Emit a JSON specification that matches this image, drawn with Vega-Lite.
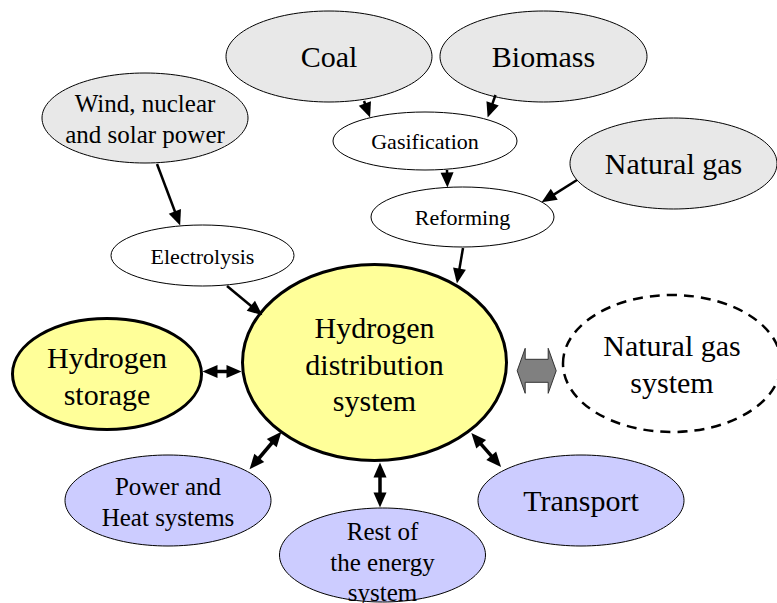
{
  "$schema": "https://vega.github.io/schema/vega-lite/v6.json",
  "width": 777,
  "height": 603,
  "autosize": {"type": "none"},
  "padding": 0,
  "background": "white",
  "config": {"view": {"stroke": null}},
  "datasets": {
    "nodes": [
      {"node": "coal", "label": "Coal", "kind": "source", "x": 329, "y": 56.5, "ly": 58},
      {"node": "biomass", "label": "Biomass", "kind": "source", "x": 543.5, "y": 56.5, "ly": 58},
      {"node": "wind", "label": "Wind, nuclear\nand solar power", "kind": "source", "x": 145, "y": 118, "ly": 104},
      {"node": "natgas", "label": "Natural gas", "kind": "source", "x": 673.5, "y": 163.5, "ly": 165},
      {"node": "gasif", "label": "Gasification", "kind": "process", "x": 425, "y": 141, "ly": 142},
      {"node": "reform", "label": "Reforming", "kind": "process", "x": 462.5, "y": 217, "ly": 218},
      {"node": "electro", "label": "Electrolysis", "kind": "process", "x": 202.5, "y": 255.5, "ly": 257},
      {"node": "hub", "label": "Hydrogen\ndistribution\nsystem", "kind": "hydrogen", "x": 374.5, "y": 362.5, "ly": 329},
      {"node": "storage", "label": "Hydrogen\nstorage", "kind": "hydrogen", "x": 107, "y": 374, "ly": 359},
      {"node": "ngsys", "label": "Natural gas\nsystem", "kind": "external", "x": 672, "y": 363.5, "ly": 347},
      {"node": "power", "label": "Power and\nHeat systems", "kind": "use", "x": 168, "y": 500.5, "ly": 487},
      {"node": "rest", "label": "Rest of\nthe energy\nsystem", "kind": "use", "x": 382.5, "y": 555, "ly": 532},
      {"node": "transport", "label": "Transport", "kind": "use", "x": 581, "y": 500.5, "ly": 502},
      {"node": "link", "label": "", "kind": "link", "x": 536.7, "y": 370.8, "ly": 370.8}
    ],
    "edges": [
      {"from": "wind", "to": "electro", "double": false, "x1": 157, "y1": 164, "x2": 175.4, "y2": 212.8},
      {"from": "coal", "to": "gasif", "double": false, "x1": 364, "y1": 101, "x2": 365.4, "y2": 104.8},
      {"from": "biomass", "to": "gasif", "double": false, "x1": 495.5, "y1": 95, "x2": 492.1, "y2": 104.7},
      {"from": "gasif", "to": "reform", "double": false, "x1": 447, "y1": 170, "x2": 447.1, "y2": 174},
      {"from": "natgas", "to": "reform", "double": false, "x1": 577, "y1": 180, "x2": 553, "y2": 195.1},
      {"from": "reform", "to": "hub", "double": false, "x1": 463, "y1": 248, "x2": 459.2, "y2": 270.2},
      {"from": "electro", "to": "hub", "double": false, "x1": 227, "y1": 286, "x2": 252, "y2": 306.7},
      {"from": "storage", "to": "hub", "double": true, "x1": 216, "y1": 371.5, "x2": 228, "y2": 371.5},
      {"from": "power", "to": "hub", "double": true, "x1": 258.3, "y1": 459, "x2": 272.7, "y2": 442},
      {"from": "rest", "to": "hub", "double": true, "x1": 380, "y1": 494, "x2": 380, "y2": 476},
      {"from": "transport", "to": "hub", "double": true, "x1": 492.2, "y1": 456.9, "x2": 480.2, "y2": 443.1}
    ]
  },
  "layer": [
    {
      "data": {"name": "nodes"},
      "encoding": {
        "x": {"field": "x", "type": "quantitative", "scale": {"domain": [0, 777], "zero": false, "nice": false}, "axis": null},
        "y": {"field": "y", "type": "quantitative", "scale": {"domain": [0, 603], "zero": false, "nice": false, "reverse": true}, "axis": null},
        "shape": {
          "field": "node", "type": "nominal", "legend": null,
          "scale": {
            "domain": ["coal", "biomass", "wind", "natgas", "gasif", "reform", "electro", "hub", "storage", "ngsys", "power", "rest", "transport", "link"],
            "range": [
              "M -103 0 A 103 45.5 0 1 1 103 0 A 103 45.5 0 1 1 -103 0 Z",
              "M -103.5 0 A 103.5 45.5 0 1 1 103.5 0 A 103.5 45.5 0 1 1 -103.5 0 Z",
              "M -103 0 A 103 45 0 1 1 103 0 A 103 45 0 1 1 -103 0 Z",
              "M -103.5 0 A 103.5 45.5 0 1 1 103.5 0 A 103.5 45.5 0 1 1 -103.5 0 Z",
              "M -92 0 A 92 29 0 1 1 92 0 A 92 29 0 1 1 -92 0 Z",
              "M -91.5 0 A 91.5 30 0 1 1 91.5 0 A 91.5 30 0 1 1 -91.5 0 Z",
              "M -91.5 0 A 91.5 30.5 0 1 1 91.5 0 A 91.5 30.5 0 1 1 -91.5 0 Z",
              "M -132 0 A 132 98 0 1 1 132 0 A 132 98 0 1 1 -132 0 Z",
              "M -94.5 0 A 94.5 55.5 0 1 1 94.5 0 A 94.5 55.5 0 1 1 -94.5 0 Z",
              "M -109 0 A 109 68.5 0 1 1 109 0 A 109 68.5 0 1 1 -109 0 Z",
              "M -103 0 A 103 45.5 0 1 1 103 0 A 103 45.5 0 1 1 -103 0 Z",
              "M -103 0 A 103 47 0 1 1 103 0 A 103 47 0 1 1 -103 0 Z",
              "M -103 0 A 103 45.5 0 1 1 103 0 A 103 45.5 0 1 1 -103 0 Z",
              "M -19.5 0 L -11.5 -22.5 L -11.5 -11.5 L 11.5 -11.5 L 11.5 -22.5 L 19.5 0 L 11.5 22.5 L 11.5 11.5 L -11.5 11.5 L -11.5 22.5 Z"
            ]
          }
        },
        "size": {"value": 4}
      },
      "layer": [
        {
          "transform": [{"filter": {"field": "kind", "oneOf": ["source", "process", "use"]}}],
          "mark": {"type": "point", "filled": true, "opacity": 1, "stroke": "black", "strokeWidth": 1},
          "encoding": {
            "fill": {"field": "kind", "type": "nominal", "legend": null,
              "scale": {"domain": ["source", "process", "use"], "range": ["#e8e8e8", "#ffffff", "#ccccff"]}}
          }
        },
        {
          "transform": [{"filter": {"field": "kind", "equal": "hydrogen"}}],
          "mark": {"type": "point", "filled": true, "opacity": 1, "fill": "#ffff99", "stroke": "black", "strokeWidth": 3}
        },
        {
          "transform": [{"filter": {"field": "kind", "equal": "external"}}],
          "mark": {"type": "point", "filled": true, "opacity": 1, "fill": "#ffffff", "stroke": "black", "strokeWidth": 2.5, "strokeDash": [10, 7]}
        },
        {
          "transform": [{"filter": {"field": "kind", "equal": "link"}}],
          "mark": {"type": "point", "filled": true, "opacity": 1, "fill": "#808080", "stroke": "#333333", "strokeWidth": 1}
        }
      ]
    },
    {
      "data": {"name": "edges"},
      "transform": [{"filter": {"field": "double", "equal": false}}],
      "mark": {"type": "rule", "color": "black", "strokeWidth": 2.5, "strokeCap": "butt"},
      "encoding": {
        "x": {"field": "x1", "type": "quantitative", "axis": null},
        "y": {"field": "y1", "type": "quantitative", "axis": null},
        "x2": {"field": "x2"},
        "y2": {"field": "y2"}
      }
    },
    {
      "data": {"name": "edges"},
      "transform": [{"filter": {"field": "double", "equal": true}}],
      "mark": {"type": "rule", "color": "black", "strokeWidth": 3.5, "strokeCap": "butt"},
      "encoding": {
        "x": {"field": "x1", "type": "quantitative", "axis": null},
        "y": {"field": "y1", "type": "quantitative", "axis": null},
        "x2": {"field": "x2"},
        "y2": {"field": "y2"}
      }
    },
    {
      "data": {"name": "edges"},
      "transform": [{"calculate": "(atan2(datum.x2 - datum.x1, datum.y1 - datum.y2) * 180 / PI + 360) % 360", "as": "ang"}],
      "mark": {"type": "point", "filled": true, "opacity": 1, "color": "black", "size": 4, "shape": "M 0 -13.5 L 6.5 1.5 L -6.5 1.5 Z"},
      "encoding": {
        "x": {"field": "x2", "type": "quantitative", "axis": null},
        "y": {"field": "y2", "type": "quantitative", "axis": null},
        "angle": {"field": "ang", "type": "quantitative", "scale": {"domain": [0, 360], "range": [0, 360]}}
      }
    },
    {
      "data": {"name": "edges"},
      "transform": [
        {"filter": {"field": "double", "equal": true}},
        {"calculate": "(atan2(datum.x1 - datum.x2, datum.y2 - datum.y1) * 180 / PI + 360) % 360", "as": "ang"}
      ],
      "mark": {"type": "point", "filled": true, "opacity": 1, "color": "black", "size": 4, "shape": "M 0 -13.5 L 6.5 1.5 L -6.5 1.5 Z"},
      "encoding": {
        "x": {"field": "x1", "type": "quantitative", "axis": null},
        "y": {"field": "y1", "type": "quantitative", "axis": null},
        "angle": {"field": "ang", "type": "quantitative", "scale": {"domain": [0, 360], "range": [0, 360]}}
      }
    },
    {
      "data": {"name": "nodes"},
      "transform": [{"filter": {"field": "node", "oneOf": ["gasif", "reform", "electro"]}}],
      "mark": {"type": "text", "font": "Liberation Serif", "fontSize": 22, "color": "black", "align": "center", "baseline": "middle", "lineBreak": "\n"},
      "encoding": {
        "x": {"field": "x", "type": "quantitative", "axis": null},
        "y": {"field": "ly", "type": "quantitative", "axis": null},
        "text": {"field": "label", "type": "nominal"}
      }
    },
    {
      "data": {"name": "nodes"},
      "transform": [{"filter": {"field": "node", "oneOf": ["wind", "power", "rest"]}}],
      "mark": {"type": "text", "font": "Liberation Serif", "fontSize": 25, "lineHeight": 30.5, "color": "black", "align": "center", "baseline": "middle", "lineBreak": "\n"},
      "encoding": {
        "x": {"field": "x", "type": "quantitative", "axis": null},
        "y": {"field": "ly", "type": "quantitative", "axis": null},
        "text": {"field": "label", "type": "nominal"}
      }
    },
    {
      "data": {"name": "nodes"},
      "transform": [{"filter": {"field": "node", "oneOf": ["coal", "biomass", "natgas", "hub", "storage", "ngsys", "transport"]}}],
      "mark": {"type": "text", "font": "Liberation Serif", "fontSize": 30, "lineHeight": 36.5, "color": "black", "align": "center", "baseline": "middle", "lineBreak": "\n"},
      "encoding": {
        "x": {"field": "x", "type": "quantitative", "axis": null},
        "y": {"field": "ly", "type": "quantitative", "axis": null},
        "text": {"field": "label", "type": "nominal"}
      }
    }
  ]
}
